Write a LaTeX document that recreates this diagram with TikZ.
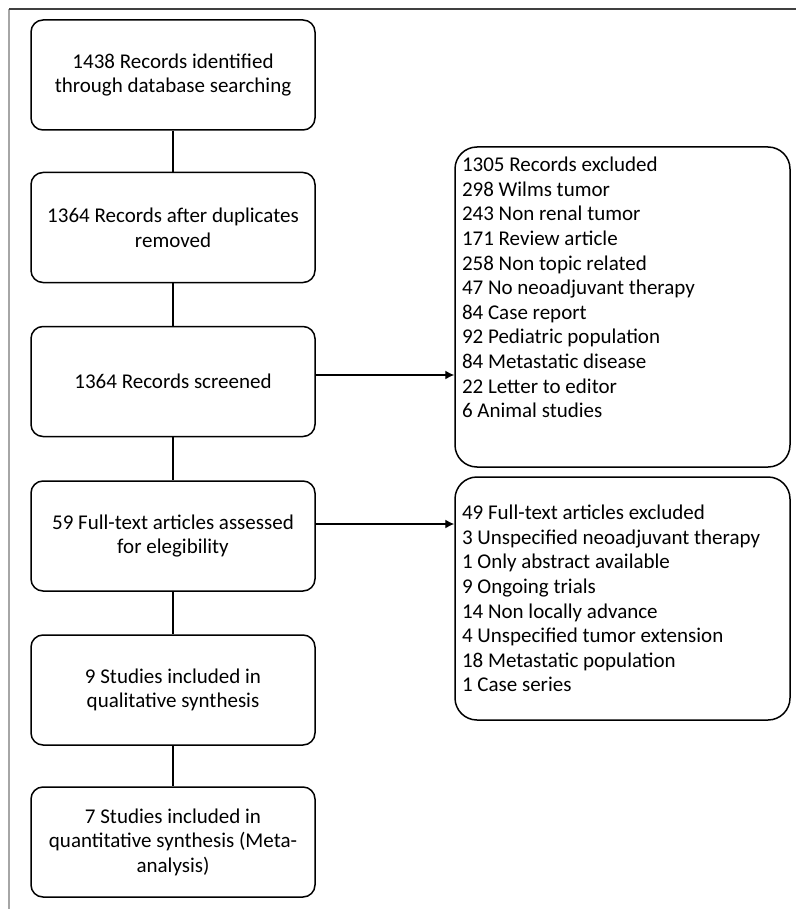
\documentclass[tikz,border=0pt]{standalone}
\usepackage{fontspec}
\setmainfont{Carlito}
\usetikzlibrary{arrows.meta}
\begin{document}
\begin{tikzpicture}[x=1pt,y=-1pt,
  every node/.style={font=\fontsize{21}{24.6}\selectfont},
  stage/.style={draw, line width=1.5pt, rounded corners=12pt, minimum width=284pt,
    minimum height=110pt, align=center, inner sep=4pt},
  excl/.style={draw, line width=1.5pt, rounded corners=22pt, minimum width=335pt,
    inner xsep=7pt, inner ysep=0pt},
  link/.style={line width=1.4pt},
  arr/.style={line width=1.4pt, -{Latex[length=9pt,width=9pt]}}]
\useasboundingbox (0,0) rectangle (796,909);
\draw[line width=2pt, gray!70] (9,909) -- (9,9);
\draw[line width=2pt, black!75] (9,9) -- (796,9);

\node[stage] (b1) at (173,75) {1438 Records identified\\through database searching};
\node[stage] (b2) at (173,227.5) {1364 Records after duplicates\\removed};
\node[stage] (b3) at (173,381.5) {1364 Records screened};
\node[stage] (b4) at (173,536) {59 Full-text articles assessed\\for elegibility};
\node[stage] (b5) at (173,690) {9 Studies included in\\qualitative synthesis};
\node[stage] (b6) at (173,842) {7 Studies included in\\quantitative synthesis (Meta-\\analysis)};

\node[excl, minimum height=320pt] (e1) at (622.5,307)
  {\parbox[c][305pt][t]{321pt}{\strut 1305 Records excluded\\
   298 Wilms tumor\\
   243 Non renal tumor\\
   171 Review article\\
   258 Non topic related\\
   47 No neoadjuvant therapy\\
   84 Case report\\
   92 Pediatric population\\
   84 Metastatic disease\\
   22 Letter to editor\\
   6 Animal studies}};
\node[excl, minimum height=243pt] (e2) at (622.5,598.5)
  {\parbox[c]{321pt}{49 Full-text articles excluded\\
   3 Unspecified neoadjuvant therapy\\
   1 Only abstract available\\
   9 Ongoing trials\\
   14 Non locally advance\\
   4 Unspecified tumor extension\\
   18 Metastatic population\\
   1 Case series}};

\draw[link] (b1) -- (b2);
\draw[link] (b2) -- (b3);
\draw[link] (b3) -- (b4);
\draw[link] (b4) -- (b5);
\draw[link] (b5) -- (b6);
\draw[arr] ([yshift=6.5pt]b3.east) coordinate (a1) -- (a1 -| e1.west);
\draw[arr] ([yshift=12pt]b4.east) coordinate (a2) -- (a2 -| e2.west);
\end{tikzpicture}
\end{document}
